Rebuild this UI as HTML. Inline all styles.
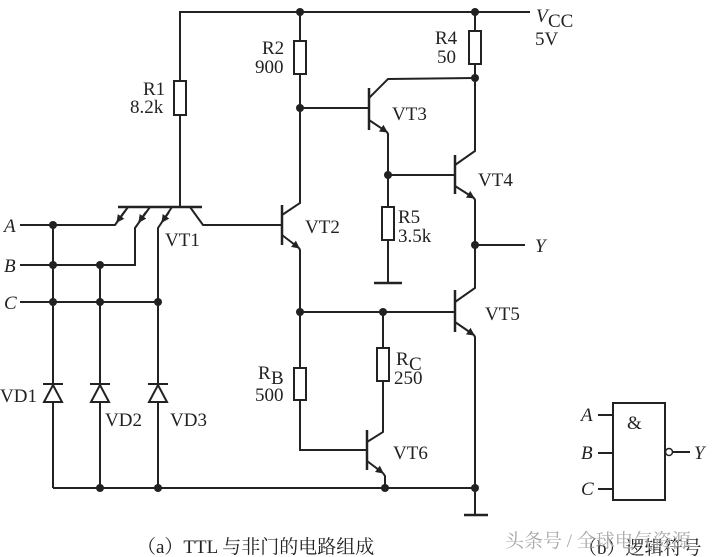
<!DOCTYPE html>
<html><head><meta charset="utf-8"><style>
body{margin:0;background:#fff;width:721px;height:557px;overflow:hidden}
svg{display:block}
text{font-family:"Liberation Serif","Noto Serif CJK SC",serif;font-size:19px;fill:#222}
</style></head><body>
<svg width="721" height="557" viewBox="0 0 721 557" xmlns="http://www.w3.org/2000/svg">
<defs>
<marker id="ar" markerWidth="8" markerHeight="8" refX="7" refY="4" orient="auto" markerUnits="userSpaceOnUse"><path d="M0,0 L8,4 L0,8 Z" fill="#222"/></marker>
</defs>
<g stroke="#222" stroke-width="2" fill="none">
<polyline points="180,208 180,12 530,12"/>
<rect x="174" y="81" width="12" height="34" fill="#fff"/>
<line x1="300" y1="12" x2="300" y2="202"/>
<rect x="294" y="41" width="12" height="33" fill="#fff"/>
<line x1="475" y1="12" x2="475" y2="150"/>
<rect x="469" y="31" width="12" height="33" fill="#fff"/>
<line x1="118" y1="207" x2="202" y2="207" stroke-width="2.5"/>
<polyline points="190,207 203,225 282,225"/>
<polyline points="20,225 115,225 128,207" />
<line x1="125" y1="211" x2="117" y2="222" marker-end="url(#ar)"/>
<polyline points="20,265 135,265 135,228 150,207"/>
<line x1="146" y1="212" x2="139" y2="222" marker-end="url(#ar)"/>
<polyline points="20,302 158,302 158,228 172,207"/>
<line x1="169" y1="212" x2="162" y2="222" marker-end="url(#ar)"/>
<line x1="53" y1="225" x2="53" y2="488"/>
<line x1="100" y1="265" x2="100" y2="488"/>
<line x1="158" y1="302" x2="158" y2="488"/>
<g fill="#fff">
<path d="M44,402 L62,402 L53,385 Z"/><line x1="43" y1="384" x2="63" y2="384"/>
<path d="M91,402 L109,402 L100,385 Z"/><line x1="90" y1="384" x2="110" y2="384"/>
<path d="M149,402 L167,402 L158,385 Z"/><line x1="148" y1="384" x2="168" y2="384"/>
</g>
<line x1="282" y1="205" x2="282" y2="245" stroke-width="2.5"/>
<polyline points="282,215 300,203 300,200"/>
<line x1="282" y1="235" x2="299" y2="248" marker-end="url(#ar)"/>
<polyline points="299,248 300,250 300,450 367,450"/>
<rect x="294" y="368" width="12" height="32" fill="#fff"/>
<line x1="300" y1="108" x2="369" y2="108"/>
<line x1="369" y1="88" x2="369" y2="130" stroke-width="2.5"/>
<polyline points="369,98 388,79 475,78"/>
<line x1="369" y1="120" x2="387" y2="132" marker-end="url(#ar)"/>
<polyline points="387,132 388,134 388,283"/>
<line x1="374" y1="283" x2="402" y2="283" stroke-width="2.5"/>
<rect x="382" y="207" width="12" height="33" fill="#fff"/>
<line x1="388" y1="175" x2="455" y2="175"/>
<line x1="455" y1="155" x2="455" y2="194" stroke-width="2.5"/>
<polyline points="455,165 475,151 475,148"/>
<line x1="455" y1="186" x2="474" y2="198" marker-end="url(#ar)"/>
<polyline points="474,198 475,200 475,288 455,302"/>
<line x1="475" y1="245" x2="525" y2="245"/>
<line x1="300" y1="312" x2="455" y2="312"/>
<line x1="455" y1="290" x2="455" y2="332" stroke-width="2.5"/>
<line x1="455" y1="322" x2="474" y2="335" marker-end="url(#ar)"/>
<polyline points="474,335 475,337 475,515"/>
<line x1="464" y1="515" x2="488" y2="515" stroke-width="2.5"/>
<line x1="383" y1="312" x2="383" y2="348"/>
<rect x="377" y="348" width="12" height="33" fill="#fff"/>
<polyline points="383,381 383,432 367,442"/>
<line x1="367" y1="430" x2="367" y2="470" stroke-width="2.5"/>
<line x1="367" y1="461" x2="383" y2="473" marker-end="url(#ar)"/>
<polyline points="383,473 385,476 385,488"/>
<line x1="53" y1="488" x2="475" y2="488"/>
<rect x="613" y="403" width="52" height="97"/>
<line x1="598" y1="415" x2="613" y2="415"/>
<line x1="598" y1="453" x2="613" y2="453"/>
<line x1="598" y1="489" x2="613" y2="489"/>
<circle cx="669" cy="452" r="3.5" stroke-width="1.5"/>
<line x1="673" y1="452" x2="690" y2="452"/>
</g>
<g fill="#222">
<circle cx="300" cy="12" r="4"/><circle cx="475" cy="12" r="4"/><circle cx="475" cy="78" r="4"/>
<circle cx="300" cy="108" r="4"/><circle cx="388" cy="175" r="4"/><circle cx="475" cy="245" r="4"/>
<circle cx="300" cy="312" r="4"/><circle cx="383" cy="312" r="4"/>
<circle cx="53" cy="225" r="4"/><circle cx="53" cy="265" r="4"/><circle cx="100" cy="265" r="4"/>
<circle cx="53" cy="302" r="4"/><circle cx="100" cy="302" r="4"/><circle cx="158" cy="302" r="4"/>
<circle cx="100" cy="488" r="4"/><circle cx="158" cy="488" r="4"/><circle cx="385" cy="488" r="4"/><circle cx="475" cy="488" r="4"/>
</g>
<text x="536" y="22" font-style="italic">V</text><text x="548" y="27" font-size="13">CC</text>
<text x="535" y="45">5V</text>
<text x="143" y="95">R1</text><text x="130" y="113">8.2k</text>
<text x="262" y="54">R2</text><text x="255" y="73">900</text>
<text x="435" y="44">R4</text><text x="437" y="63">50</text>
<text x="392" y="120">VT3</text>
<text x="478" y="186">VT4</text>
<text x="305" y="233">VT2</text>
<text x="165" y="246">VT1</text>
<text x="398" y="223">R5</text><text x="398" y="242">3.5k</text>
<text x="535" y="252" font-style="italic">Y</text>
<text x="485" y="320">VT5</text>
<text x="4" y="232" font-style="italic">A</text>
<text x="4" y="272" font-style="italic">B</text>
<text x="4" y="309" font-style="italic">C</text>
<text x="258" y="379">R</text><text x="271" y="384" font-size="13">B</text><text x="255" y="401">500</text>
<text x="396" y="365">R</text><text x="409" y="370" font-size="13">C</text><text x="394" y="384">250</text>
<text x="0" y="402">VD1</text>
<text x="105" y="426">VD2</text>
<text x="170" y="426">VD3</text>
<text x="393" y="459">VT6</text>
<text x="581" y="421" font-style="italic">A</text>
<text x="581" y="459" font-style="italic">B</text>
<text x="581" y="495" font-style="italic">C</text>
<text x="627" y="429">&amp;</text>
<text x="694" y="459" font-style="italic">Y</text>
<text x="137" y="553" font-size="22">（a）TTL 与非门的电路组成</text>
<text x="578" y="554" font-size="22">（b）逻辑符号</text>
<text x="505" y="547" font-size="21" style="fill:#aaa" font-family="Liberation Sans, Noto Sans CJK SC, sans-serif">头条号 / 全球电气资源</text>
</svg>
</body></html>
